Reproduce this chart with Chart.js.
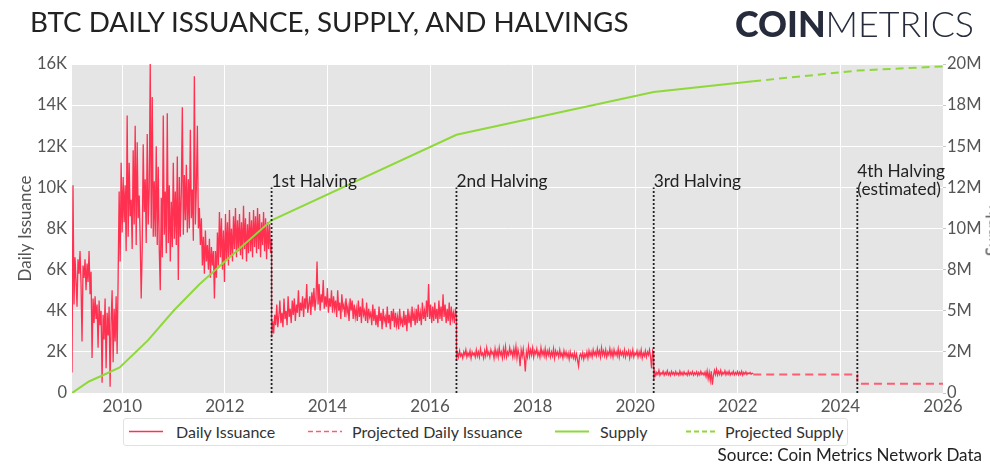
<!DOCTYPE html>
<html><head><meta charset="utf-8">
<script src="https://cdn.jsdelivr.net/npm/chart.js@4.4.1/dist/chart.umd.min.js"></script>
<style>
html,body{margin:0;padding:0;background:#fff;overflow:hidden;}
#wrap{position:relative;width:990px;height:464px;font-family:Lato,"Noto Sans",sans-serif;overflow:hidden;}
canvas{position:absolute;left:0;top:0;}
#title{position:absolute;left:30px;top:5px;font-size:27.8px;color:#222;white-space:nowrap;}
#logo{position:absolute;left:735px;top:2px;font-size:35.8px;color:#272c3d;white-space:nowrap;}
#logo b{font-weight:900;}
#logo span{font-weight:300;}
#legend{position:absolute;left:123px;top:418px;width:725px;height:28px;border:1px solid #e2e2e2;border-radius:3px;box-sizing:border-box;font-size:16px;color:#333;background:#fff;}
.sw{position:absolute;top:10.5px;}
.lt{position:absolute;top:3px;white-space:nowrap;}
#source{position:absolute;right:8px;top:444px;font-size:17px;color:#222;white-space:nowrap;}
#ytitle2{position:absolute;left:992px;top:231px;transform:translate(-50%,-50%) rotate(-90deg);font-size:17px;color:#555;white-space:nowrap;}
</style>
</head>
<body>
<div id="wrap">
<canvas id="c" width="990" height="464"></canvas>
<div id="title">BTC DAILY ISSUANCE, SUPPLY, AND HALVINGS</div>
<div id="logo"><b>COIN</b><span>METRICS</span></div>
<div id="legend">
  <svg class="sw" style="left:5px" width="34" height="3"><line x1="0" y1="1.5" x2="34" y2="1.5" stroke="#ff3050" stroke-width="1.5"/></svg>
  <span class="lt" style="left:52px">Daily Issuance</span>
  <svg class="sw" style="left:184px" width="34" height="3"><line x1="0" y1="1.5" x2="34" y2="1.5" stroke="#ff5c70" stroke-width="1.5" stroke-dasharray="5,3"/></svg>
  <span class="lt" style="left:228px">Projected Daily Issuance</span>
  <svg class="sw" style="left:431px" width="34" height="3"><line x1="0" y1="1.5" x2="34" y2="1.5" stroke="#8fd83a" stroke-width="2"/></svg>
  <span class="lt" style="left:476px">Supply</span>
  <svg class="sw" style="left:562px" width="32" height="3"><line x1="0" y1="1.5" x2="32" y2="1.5" stroke="#8fd83a" stroke-width="2" stroke-dasharray="5,3"/></svg>
  <span class="lt" style="left:601px">Projected Supply</span>
</div>
<div id="source">Source: Coin Metrics Network Data</div>
<div id="ytitle2">Supply</div>
</div>
<script>
// ---------- DATA ----------
const xTickYears = [2010, 2012, 2014, 2016, 2018, 2020, 2022, 2024, 2026];
const issuanceTickValues = [0, 2000, 4000, 6000, 8000, 10000, 12000, 14000, 16000];
const issuanceTickLabels = ['0', '2K', '4K', '6K', '8K', '10K', '12K', '14K', '16K'];
const supplyTickValues = [0, 2500000, 5000000, 7500000, 10000000, 12500000, 15000000, 17500000, 20000000];
const supplyTickLabels = ['0', '2M', '5M', '8M', '10M', '12M', '15M', '18M', '20M'];

// daily issuance: era spans (years) and the values read along each era
const eraSpans = [[2009.02, 2012.911], [2012.911, 2016.515], [2016.515, 2020.36], [2020.36, 2022.3]];
const issuanceEra1 = [
1000,10100,4300,6600,5500,4200,6500,5800,6900,5300,
2500,6200,5600,6500,5000,6300,5400,6900,4800,5900,
1700,4600,3400,4700,3600,4300,2200,4500,3300,4000,
500,3800,2600,4600,1200,3900,2800,4200,300,3500,
5000,1500,4100,2500,4700,1900,5600,9800,6400,11200,
7800,10500,8300,10100,6900,13500,7600,11200,8600,9400,
7000,11800,8200,13000,7200,12200,8500,9600,7400,4600,
7000,12100,8800,10400,7300,12600,8200,9900,16000,8000,
14400,7600,10300,7600,12000,7200,11000,7000,5000,9500,
6600,13500,7700,9800,6800,13600,7300,10100,6400,9300,
7100,11200,7500,9800,7200,11500,5500,10500,7600,9800,
13900,7700,10600,8400,11100,7800,10400,8000,12800,8500,
9900,7400,15400,8200,10000,13000,8000,9000,7200,8500,
6200,7600,5800,7900,6400,7200,6000,7500,5600,7100,
6200,6900,4600,6900,5600,7800,6200,8800,6600,8500,
6000,7900,5400,8700,6500,8300,6200,8900,6700,8000,
6400,8600,7000,9000,6600,8400,6900,8700,6700,8300,
6500,9100,7000,8500,6400,8200,6800,8800,6900,8400,
6600,8900,7100,8600,6800,9000,7000,8700,6600,8300,
7200,8800,6900,8500,6500,8300,7000,8200,6800,7500];
const issuanceEra2 = [
2700,3500,2900,3800,3300,4300,3200,3700,4500,3400,3900,3200,4600,3600,4000,3300,4700,3700,4100,3400,
4500,3800,4600,3500,4300,3900,5000,3700,4400,4000,4700,3700,4600,4100,5300,3900,4300,4700,3800,4900,
4200,5100,4000,4600,6400,4300,5300,4000,4800,4400,5500,4100,4700,4200,5100,3900,4600,4200,5000,3900,
4700,4100,4500,3700,5000,4000,4400,3600,4800,4100,4300,3700,4600,3900,4200,3500,4600,4000,4500,3600,
4300,3700,4100,3500,4500,3700,4200,3400,4600,3800,4000,3500,4400,3400,4100,3700,3900,3300,4300,3500,
4100,3300,3800,3200,4200,3500,3900,3100,4100,3500,3700,3200,4200,3400,3800,3100,4000,3500,4100,3200,
3900,3300,3700,3100,4100,3400,3600,3200,4000,3300,3800,3000,4100,3400,3800,3200,4200,3500,3900,3300,
4100,3400,4300,3500,3900,3300,4400,3600,4000,3500,4500,3700,5300,3600,4300,3400,4200,3500,4400,3600,
4100,3400,4500,3600,4200,3500,4800,3700,4300,3400,4100,3500,4400,3300,4200,3600,3900,3400,4100,3700];
const issuanceEra3 = [
1600,1950,1750,2050,1800,1900,1700,2000,1850,2100,1750,1950,1800,2050,1700,2000,1850,1950,1750,2100,
1800,2000,1750,2150,1850,1950,1700,2050,1800,2200,1850,2000,1750,2100,1900,2000,1700,2150,1800,2050,
1750,2200,1850,2000,1700,2150,1800,2250,1750,2000,1850,2200,1900,2050,1750,2150,1800,2250,1700,2100,
1850,1300,2100,1800,2150,1700,1050,2000,1750,2250,1800,2100,1850,2200,1750,2050,1900,2150,1800,2000,
1750,2200,1850,2050,1800,2150,1750,2050,1850,2100,1750,2000,1800,2150,1700,2050,1850,2000,1750,2100,
1800,1950,1700,2050,1800,2000,1750,1950,1650,2000,1750,1900,1700,1950,1650,1900,1600,1300,1800,1900,
1700,1950,1650,1900,1750,2000,1700,2050,1800,2000,1750,2100,1850,2000,1800,2150,1850,2050,1750,2200,
1850,2050,1800,2100,1750,2000,1850,2150,1800,2050,1750,2100,1850,2000,1800,2150,1750,2050,1850,2000,
1800,2100,1750,2000,1850,2050,1700,2000,1800,2100,1750,1950,1850,2050,1750,2000,1800,2100,1700,1950,
1800,2050,1750,2000,1850,2100,1750,1200,2050,1900];
const issuanceEra4 = [
630,1050,850,1000,900,1100,860,980,920,1050,870,1000,900,1080,880,990,860,1050,910,1000,
870,1040,900,980,860,1060,890,1000,870,1030,900,970,860,1050,880,1000,900,1040,870,990,
900,1030,860,1000,880,1050,900,980,870,1020,800,1080,700,1000,600,1050,400,850,1100,900,
1150,880,1050,900,1100,870,1000,920,1080,880,1020,900,1060,870,990,910,1050,880,1000,900,
1040,880,1010,900,1060,870,1000,920,1030,900,980,930,1000,910,960,940];

const projIssuanceYears = [2022.3, 2024.33, 2024.33, 2026];
const projIssuance = [900, 900, 450, 450];

const supplyYears = [2009.02, 2009.35, 2009.6, 2009.95, 2010.5, 2011.0, 2011.5, 2012.0, 2012.911, 2016.515, 2020.36, 2022.3];
const supply = [0, 700000, 1050000, 1550000, 3200000, 5000000, 6600000, 8000000, 10500000, 15700000, 18300000, 18950000];
const projSupplyYears = [2022.3, 2024.33, 2026];
const projSupply = [18950000, 19600000, 19850000];

const halvingYears = [2012.911, 2016.515, 2020.36, 2024.33];
const halvingTop = 10000;
const halvingLabels = [['1st Halving'], ['2nd Halving'], ['3rd Halving'], ['4th Halving', '(estimated)']];

// ---------- BUILD ----------
const eras = [issuanceEra1, issuanceEra2, issuanceEra3, issuanceEra4];
const issuancePts = [];
eras.forEach((vals, k) => {
  const [a, b] = eraSpans[k];
  vals.forEach((v, i) => issuancePts.push({x: a + (b - a) * i / (vals.length - 1), y: v}));
});
const zip = (xs, ys) => xs.map((x, i) => ({x, y: ys[i]}));
const halvingPts = [];
halvingYears.forEach(h => { halvingPts.push({x: h, y: 0}, {x: h, y: halvingTop}, {x: h, y: null}); });

const RED = '#ff3050', RED_P = '#ff5c70', GREEN = '#8fd83a';
const xTickFont = {family: 'Lato', size: 17};
const yTickFont = {family: 'Lato', size: 16.5};

const bgPlugin = {
  id: 'plotBg',
  beforeDraw(chart) {
    const {ctx, chartArea: a} = chart;
    ctx.save();
    ctx.fillStyle = '#e5e5e5';
    ctx.fillRect(a.left, a.top, a.right - a.left, a.bottom - a.top);
    ctx.restore();
  }
};
const halvingLabelPlugin = {
  id: 'halvingLabels',
  afterDatasetsDraw(chart) {
    const {ctx} = chart, xs = chart.scales.x, ys = chart.scales.y;
    ctx.save();
    ctx.font = '17.3px Lato';
    ctx.fillStyle = '#222';
    ctx.textAlign = 'left';
    ctx.textBaseline = 'alphabetic';
    halvingYears.forEach((h, i) => {
      const px = xs.getPixelForValue(h), py = ys.getPixelForValue(halvingTop);
      const lines = halvingLabels[i];
      const off = lines.length > 1 ? -10 : 0;
      lines.forEach((t, j) => ctx.fillText(t, px, py + off + j * 18));
    });
    ctx.restore();
  }
};

new Chart(document.getElementById('c'), {
  type: 'line',
  data: {
    datasets: [
      {label: 'Halvings', data: halvingPts, yAxisID: 'y', borderColor: '#222', borderWidth: 1.8, borderDash: [2, 2], pointRadius: 0, spanGaps: false, order: 0},
      {label: 'Supply', data: zip(supplyYears, supply), yAxisID: 'y2', borderColor: GREEN, borderWidth: 2, pointRadius: 0, order: 1},
      {label: 'Projected Supply', data: zip(projSupplyYears, projSupply), yAxisID: 'y2', borderColor: GREEN, borderWidth: 2, borderDash: [8, 5], pointRadius: 0, order: 2},
      {label: 'Daily Issuance', data: issuancePts, yAxisID: 'y', borderColor: RED, borderWidth: 1.3, pointRadius: 0, order: 3},
      {label: 'Projected Daily Issuance', data: zip(projIssuanceYears, projIssuance), yAxisID: 'y', borderColor: RED_P, borderWidth: 2, borderDash: [8, 5], pointRadius: 0, order: 4}
    ]
  },
  options: {
    responsive: false,
    animation: false,
    devicePixelRatio: 1,
    layout: {padding: {top: 64, right: 0, bottom: 0, left: 0}},
    plugins: {legend: {display: false}, tooltip: {enabled: false}},
    scales: {
      x: {
        type: 'linear', min: 2009.02, max: 2026,
        afterBuildTicks: s => { s.ticks = xTickYears.map(v => ({value: v})); },
        afterFit: s => { s.height = 71; },
        grid: {color: '#ffffff', lineWidth: 1, drawTicks: false},
        border: {display: false},
        ticks: {padding: 3, color: '#555', font: xTickFont, maxRotation: 0, autoSkip: false, callback: v => String(v)}
      },
      y: {
        position: 'left', min: 0, max: 16000,
        afterBuildTicks: s => { s.ticks = issuanceTickValues.map(v => ({value: v})); },
        afterFit: s => { s.width = 72; },
        grid: {color: '#ffffff', lineWidth: 1, drawTicks: false},
        border: {display: false},
        ticks: {padding: 5, color: '#555', font: yTickFont, callback: v => issuanceTickLabels[issuanceTickValues.indexOf(v)]},
        title: {display: true, text: 'Daily Issuance', color: '#555', font: {family: 'Lato', size: 17}, padding: {top: 15, bottom: 0}}
      },
      y2: {
        position: 'right', min: 0, max: 20000000,
        afterBuildTicks: s => { s.ticks = supplyTickValues.map(v => ({value: v})); },
        afterFit: s => { s.width = 47; },
        grid: {drawOnChartArea: false, color: '#c8c8c8', tickLength: 3},
        border: {display: false},
        ticks: {padding: 1, color: '#555', font: yTickFont, callback: v => supplyTickLabels[supplyTickValues.indexOf(v)]}
      }
    }
  },
  plugins: [bgPlugin, halvingLabelPlugin]
});
</script>
</body></html>
